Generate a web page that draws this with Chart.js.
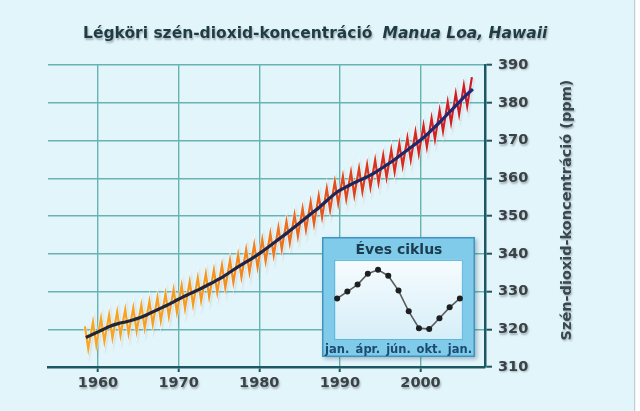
<!DOCTYPE html>
<html>
<head>
<meta charset="utf-8">
<script src="https://cdn.jsdelivr.net/npm/chart.js@4/dist/chart.umd.min.js"></script>
<style>
  html, body { margin: 0; padding: 0; background: #fff; }
  #wrap { position: relative; width: 640px; height: 411px; }
  #main { position: absolute; left: 0; top: 0; }
  #frame {
    position: absolute; left: 322px; top: 237px; width: 153px; height: 120px;
    background: #80cbe9;
    box-shadow: inset 0 0 0 1.5px #3f95c2, 2px 2px 4px rgba(40, 70, 90, 0.35);
  }
  #inset { position: absolute; left: 0; top: 0; }
</style>
</head>
<body>
<div id="wrap">
  <canvas id="main" width="640" height="411"></canvas>
  <div id="frame"><canvas id="inset" width="153" height="120"></canvas></div>
</div>
<script>
const years = [
  1958, 1959, 1960, 1961, 1962, 1963, 1964, 1965, 1966, 1967,
  1968, 1969, 1970, 1971, 1972, 1973, 1974, 1975, 1976, 1977,
  1978, 1979, 1980, 1981, 1982, 1983, 1984, 1985, 1986, 1987,
  1988, 1989, 1990, 1991, 1992, 1993, 1994, 1995, 1996, 1997,
  1998, 1999, 2000, 2001, 2002, 2003, 2004, 2005, 2006
];
// seasonal maximum (around May) of each year
const seasonHigh = [
  320.8, 321.9, 322.9, 323.8, 324.6, 325.2, 325.7, 326.4, 327.4, 328.4,
  329.4, 330.5, 331.6, 332.6, 333.6, 334.7, 335.7, 337.0, 338.3, 339.7,
  341.1, 342.4, 343.8, 345.4, 347.0, 348.6, 350.3, 352.0, 353.7, 355.4,
  357.3, 359.1, 360.5, 361.6, 362.6, 363.6, 364.8, 366.1, 367.5, 369.1,
  370.7, 372.3, 374.0, 375.9, 378.0, 380.2, 382.4, 384.6, 386.8
];
// seasonal minimum (around October) of each year
const seasonLow = [
  314.8, 315.8, 316.8, 317.7, 318.4, 318.9, 319.5, 320.3, 321.3, 322.3,
  323.4, 324.5, 325.5, 326.5, 327.6, 328.6, 329.8, 331.0, 332.4, 333.8,
  335.1, 336.4, 338.0, 339.6, 341.2, 342.9, 344.6, 346.3, 347.9, 349.7,
  351.6, 353.3, 354.5, 355.5, 356.5, 357.6, 358.8, 360.2, 361.7, 363.3,
  364.9, 366.5, 368.3, 370.3, 372.5, 374.7, 376.9, 379.1
];
// yearly mean (smoothed curve)
const trendMean = [
  317.8, 318.8, 319.8, 320.8, 321.5, 322.0, 322.6, 323.3, 324.3, 325.3,
  326.3, 327.4, 328.5, 329.5, 330.5, 331.6, 332.7, 333.9, 335.3, 336.7,
  338.0, 339.3, 340.8, 342.4, 344.0, 345.6, 347.3, 349.0, 350.7, 352.4,
  354.3, 356.1, 357.4, 358.5, 359.5, 360.5, 361.7, 363.1, 364.5, 366.1,
  367.7, 369.3, 371.0, 373.0, 375.1, 377.3, 379.5, 381.7, 383.6
];
const xTickValues = [1960, 1970, 1980, 1990, 2000];
const yTickValues = [310, 320, 330, 340, 350, 360, 370, 380, 390];

const cycleLabels = ['jan.', '', '', 'ápr.', '', '', 'jún.', '', '', 'okt.', '', '', 'jan.'];
const cycleValues = [0, 0.7, 1.4, 2.5, 2.9, 2.3, 0.8, -1.3, -3.0, -3.1, -2.0, -0.9, 0];

const FONT = '"DejaVu Sans", Verdana, sans-serif';
Chart.defaults.font.family = FONT;

const seasonalPoints = [];
years.forEach((yr, i) => {
  seasonalPoints.push({ x: yr + 4.5 / 12, y: seasonHigh[i] });
  if (i < seasonLow.length) seasonalPoints.push({ x: yr + 9.5 / 12, y: seasonLow[i] });
});
const trendPoints = years.map((yr, i) => ({ x: yr + 0.5, y: trendMean[i] }));

function seasonalColor(context) {
  const chart = context.chart;
  const a = chart.chartArea;
  if (!a) return '#f5a020';
  const g = chart.ctx.createLinearGradient(a.left, 0, a.right, 0);
  g.addColorStop(0, '#f7ac2a');
  g.addColorStop(0.35, '#f49a22');
  g.addColorStop(0.5, '#ef7d20');
  g.addColorStop(0.62, '#e4581e');
  g.addColorStop(0.75, '#d8321f');
  g.addColorStop(0.9, '#d21f24');
  g.addColorStop(1, '#c81a2c');
  return g;
}

function trendColor(context) {
  const chart = context.chart;
  const a = chart.chartArea;
  if (!a) return '#1c2448';
  const g = chart.ctx.createLinearGradient(a.left, 0, a.right, 0);
  g.addColorStop(0, '#23262c');
  g.addColorStop(0.5, '#1c2448');
  g.addColorStop(1, '#1d2a7c');
  return g;
}

const background = {
  id: 'background',
  beforeDraw(chart) {
    const c = chart.ctx;
    c.save();
    c.fillStyle = '#e2f5fb';
    c.fillRect(0, 0, 634, 411);
    c.fillStyle = '#c3cdd1';
    c.fillRect(634, 0, 1.5, 411);
    c.fillStyle = '#ffffff';
    c.fillRect(635.5, 0, 5, 411);
    c.restore();
  }
};

const glow = {
  id: 'glow',
  beforeDatasetDraw(chart, args) {
    if (args.index !== 2) return;
    const c = chart.ctx;
    c.save();
    c.shadowColor = 'rgba(90, 70, 50, 0.22)';
    c.shadowBlur = 2;
    c.shadowOffsetX = 1;
    c.shadowOffsetY = 1.5;
  },
  afterDatasetDraw(chart, args) {
    if (args.index === 2) chart.ctx.restore();
  }
};

const texts = {
  id: 'texts',
  afterDatasetsDraw(chart) {
    // tick labels are drawn after this (ticks.z = 1), so they get the soft shadow
    const c = chart.ctx;
    c.save();
    c.shadowColor = 'rgba(40, 50, 55, 0.35)';
    c.shadowBlur = 2;
    c.shadowOffsetX = 1;
    c.shadowOffsetY = 1.5;
  },
  afterDraw(chart) {
    const c = chart.ctx;
    c.fillStyle = '#1f3c44';
    c.textBaseline = 'alphabetic';
    c.textAlign = 'left';
    c.font = 'bold 15.5px ' + FONT;
    const part1 = 'Légköri szén-dioxid-koncentráció';
    c.fillText(part1, 83, 38);
    const w = c.measureText(part1).width;
    c.font = 'italic bold 15.5px ' + FONT;
    c.fillText('Manua Loa, Hawaii', 83 + w + 10, 38);

    c.save();
    c.translate(567, 210);
    c.rotate(-Math.PI / 2);
    c.fillStyle = '#38484c';
    c.textAlign = 'center';
    c.textBaseline = 'middle';
    c.font = 'bold 14.5px ' + FONT;
    c.fillText('Szén-dioxid-koncentráció (ppm)', 0, 0);
    c.restore();
    c.restore();
  }
};

const gridColor = '#66b3b1';
const axisColor = '#1d5763';
const tickFont = { family: FONT, size: 14.5, weight: 'bold' };

new Chart(document.getElementById('main'), {
  type: 'line',
  data: {
    datasets: [
      {
        label: 'trend',
        data: trendPoints,
        borderColor: trendColor,
        borderWidth: 3.2,
        pointRadius: 0,
        tension: 0.4,
        order: 0
      },
      {
        label: 'seasonal',
        data: seasonalPoints,
        borderColor: seasonalColor,
        borderWidth: 2.2,
        pointRadius: 0,
        tension: 0,
        order: 1
      },
      {
        label: 'halo',
        data: seasonalPoints,
        borderColor: 'rgba(255, 255, 255, 0.55)',
        borderWidth: 3.8,
        pointRadius: 0,
        tension: 0,
        order: 2
      }
    ]
  },
  options: {
    responsive: false,
    animation: false,
    layout: { padding: { top: 65, left: 48, right: 0, bottom: 0 } },
    scales: {
      x: {
        type: 'linear',
        min: 1953.8,
        max: 2008,
        afterBuildTicks: s => { s.ticks = xTickValues.map(v => ({ value: v })); },
        afterFit: s => { s.height = 44; },
        grid: { color: gridColor, lineWidth: 1.4, tickLength: 5, tickColor: axisColor, tickWidth: 2 },
        border: { color: axisColor, width: 2.5 },
        ticks: { font: tickFont, color: '#3a4245', padding: 3, z: 1, callback: v => String(v) }
      },
      y: {
        position: 'right',
        min: 310,
        max: 390,
        afterBuildTicks: s => { s.ticks = yTickValues.map(v => ({ value: v })); },
        afterFit: s => { s.width = 155; },
        grid: { color: gridColor, lineWidth: 1.4, tickLength: 7, tickColor: axisColor, tickWidth: 2 },
        border: { color: axisColor, width: 2.5 },
        ticks: { font: tickFont, color: '#3a4245', padding: 6, z: 1 }
      }
    },
    plugins: {
      legend: { display: false },
      tooltip: { enabled: false }
    }
  },
  plugins: [background, glow, texts]
});

const insetPanel = {
  id: 'insetPanel',
  beforeDraw(chart) {
    const a = chart.chartArea;
    const c = chart.ctx;
    c.save();
    const g = c.createLinearGradient(0, a.top, 0, a.bottom);
    g.addColorStop(0, '#f6fcfe');
    g.addColorStop(1, '#d6eef8');
    c.fillStyle = g;
    c.fillRect(a.left - 2, a.top, a.right - a.left + 5, a.bottom - a.top);
    c.strokeStyle = '#5db5dc';
    c.lineWidth = 1;
    c.strokeRect(a.left - 2.5, a.top + 0.5, a.right - a.left + 5, a.bottom - a.top - 1);
    c.restore();
  }
};

new Chart(document.getElementById('inset'), {
  type: 'line',
  data: {
    labels: cycleLabels,
    datasets: [{
      data: cycleValues,
      borderColor: '#5a5e60',
      borderWidth: 1.6,
      pointRadius: 3,
      pointBackgroundColor: '#1d1f20',
      pointBorderWidth: 0,
      tension: 0
    }]
  },
  options: {
    responsive: false,
    animation: false,
    layout: { padding: { left: 14, right: 13, top: 0, bottom: 0 } },
    scales: {
      x: {
        grid: { display: false, drawTicks: false },
        border: { display: false },
        afterFit: s => { s.height = 17; },
        ticks: {
          autoSkip: false,
          maxRotation: 0,
          padding: 3,
          color: '#1b4a70',
          font: { family: FONT, size: 11.5, weight: 'bold' }
        }
      },
      y: { display: false, min: -4.2, max: 3.9 }
    },
    plugins: {
      legend: { display: false },
      tooltip: { enabled: false },
      title: {
        display: true,
        text: 'Éves ciklus',
        color: '#1b3c4e',
        font: { family: FONT, size: 14, weight: 'bold', lineHeight: 1.1 },
        padding: { top: 6, bottom: 1.5 }
      }
    }
  },
  plugins: [insetPanel]
});
</script>
</body>
</html>
